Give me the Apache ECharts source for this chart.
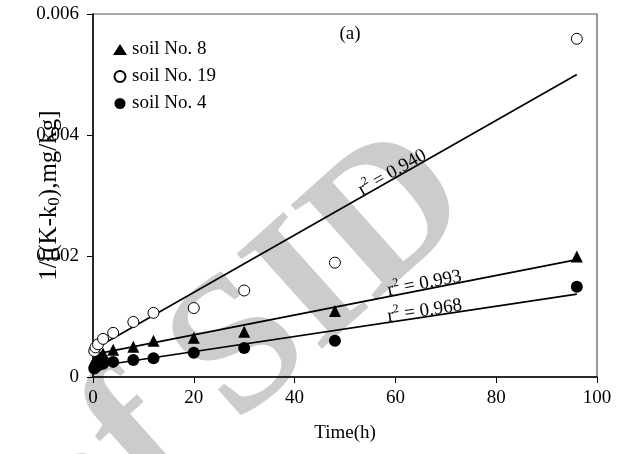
<!DOCTYPE html>
<html><head><meta charset="utf-8">
<script src="https://cdn.jsdelivr.net/npm/echarts@6/dist/echarts.min.js"></script>
<style>html,body{margin:0;padding:0;background:#fff}#c{width:626px;height:454px}</style>
</head><body><div id="c"></div>
<script>
// ---- data ----
const times  = [0.25, 0.5, 1, 2, 4, 8, 12, 20, 30, 48, 96];
const soil8  = [0.00026, 0.00030, 0.00034, 0.00039, 0.00045, 0.00050, 0.00060, 0.00065, 0.00075, 0.00109, 0.00199];
const soil19 = [0.00043, 0.00049, 0.00054, 0.00063, 0.00073, 0.00091, 0.00106, 0.00114, 0.00143, 0.00189, 0.00559];
const soil4  = [0.00014, 0.00017, 0.00019, 0.00022, 0.00025, 0.00028, 0.00031, 0.00040, 0.00048, 0.00060, 0.00149];
const fitTimes = [0, 96];
const fit8  = [0.00037, 0.00194];
const fit19 = [0.00045, 0.00500];
const fit4  = [0.00017, 0.00137];
const seriesNames = ['soil No. 8', 'soil No. 19', 'soil No. 4'];
const r2Values = ['0.993', '0.940', '0.968'];
const r2AtHour = [66, 60, 66];
const xTicks = [0, 20, 40, 60, 80, 100];
const yTicks = [0, 0.002, 0.004, 0.006];
const panelLabel = '(a)';

const FONT = 'Liberation Serif';
const pairs = (xs, ys) => xs.map((x, i) => [x, ys[i]]);
const fits = [fit8, fit19, fit4];

const chart = echarts.init(document.getElementById('c'), null, {renderer: 'canvas'});
const option = {
  animation: false,
  backgroundColor: '#fff',
  textStyle: {fontFamily: FONT, color: '#000'},
  grid: {left: 93, right: 29, top: 14, bottom: 77, show: true, borderColor: '#555', borderWidth: 1.2, backgroundColor: 'transparent'},
  legend: {
    orient: 'vertical', left: 108, top: 35, itemWidth: 14, itemHeight: 11, itemGap: 8,
    data: seriesNames,
    textStyle: {fontFamily: FONT, fontSize: 19, color: '#000'}
  },
  xAxis: {
    type: 'value', min: xTicks[0], max: xTicks[xTicks.length - 1], interval: xTicks[1] - xTicks[0],
    name: 'Time(h)', nameLocation: 'middle', nameGap: 47, nameMoveOverlap: false,
    nameTextStyle: {fontFamily: FONT, fontSize: 19, color: '#000'},
    axisLine: {lineStyle: {color: '#000', width: 1.5}},
    axisTick: {inside: false, length: 6, lineStyle: {color: '#000', width: 1}},
    axisLabel: {fontFamily: FONT, fontSize: 19, color: '#000', margin: 12},
    splitLine: {show: false}
  },
  yAxis: {
    type: 'value', min: yTicks[0], max: yTicks[yTicks.length - 1], interval: yTicks[1] - yTicks[0],
    name: '{a|1/[(K-k}{b|0}{a|),mg/kg]}', nameLocation: 'middle', nameGap: 30, nameMoveOverlap: false,
    nameTextStyle: {rich: {a: {fontFamily: FONT, fontSize: 25, color: '#000', lineHeight: 28}, b: {fontFamily: FONT, fontSize: 17, color: '#000', verticalAlign: 'bottom', lineHeight: 28}}},
    axisLine: {show: true, lineStyle: {color: '#000', width: 1.5}},
    axisTick: {show: true, inside: false, length: 6, lineStyle: {color: '#000', width: 1}},
    axisLabel: {fontFamily: FONT, fontSize: 19, color: '#000', margin: 14,
      formatter: v => (v === 0 ? '0' : v.toFixed(3))},
    splitLine: {show: false}
  },
  series: [
    {name: seriesNames[0], type: 'scatter', symbol: 'triangle', symbolSize: 12, z: 5,
      itemStyle: {color: '#000', opacity: 1}, data: pairs(times, soil8)},
    {name: seriesNames[1], type: 'scatter', symbol: 'circle', symbolSize: 11, z: 5,
      itemStyle: {color: '#fff', borderColor: '#000', borderWidth: 1, opacity: 1}, data: pairs(times, soil19)},
    {name: seriesNames[2], type: 'scatter', symbol: 'circle', symbolSize: 12, z: 5,
      itemStyle: {color: '#000', opacity: 1}, data: pairs(times, soil4)},
    ...fits.map(f => ({type: 'line', symbol: 'none', z: 4, silent: true,
      lineStyle: {color: '#000', width: 1.6}, data: pairs(fitTimes, f)}))
  ]
};
chart.setOption(option);

// r^2 labels placed along each fit line through the library's scales
const graphics = [];
fits.forEach((f, i) => {
  const p0 = chart.convertToPixel({gridIndex: 0}, [fitTimes[0], f[0]]);
  const p1 = chart.convertToPixel({gridIndex: 0}, [fitTimes[1], f[1]]);
  const ang = Math.atan2(p0[1] - p1[1], p1[0] - p0[0]);
  const t = r2AtHour[i];
  const v = f[0] + (f[1] - f[0]) * (t - fitTimes[0]) / (fitTimes[1] - fitTimes[0]);
  const p = chart.convertToPixel({gridIndex: 0}, [t, v]);
  // nudge the baseline a little toward the line (perpendicular)
  const d = 6;
  const px = p[0] + d * Math.sin(ang), py = p[1] + d * Math.cos(ang);
  graphics.push({
    type: 'text', x: px, y: py, rotation: ang, z: 10,
    style: {
      text: '{r|r}{s|2}{t| = ' + r2Values[i] + '}',
      align: 'center', verticalAlign: 'bottom',
      rich: {
        r: {fontFamily: FONT, fontSize: 19, fill: '#000', lineHeight: 24},
        s: {fontFamily: FONT, fontSize: 12, fill: '#000', verticalAlign: 'top', lineHeight: 24},
        t: {fontFamily: FONT, fontSize: 19, fill: '#000', lineHeight: 24}
      }
    }
  });
});
graphics.push({type: 'text', x: 350, y: 34, z: 10,
  style: {text: panelLabel, font: '19px "Liberation Serif"', fill: '#000', align: 'center', verticalAlign: 'middle'}});
// light gray watermark of the source image
graphics.push({type: 'text', x: 245, y: 350, rotation: Math.PI / 4.3, z: -10, silent: true,
  style: {text: 'of SID', font: 'bold 195px "Liberation Serif"', fill: '#cccccc', align: 'center', verticalAlign: 'middle'}});
chart.setOption({graphic: graphics});
</script></body></html>
